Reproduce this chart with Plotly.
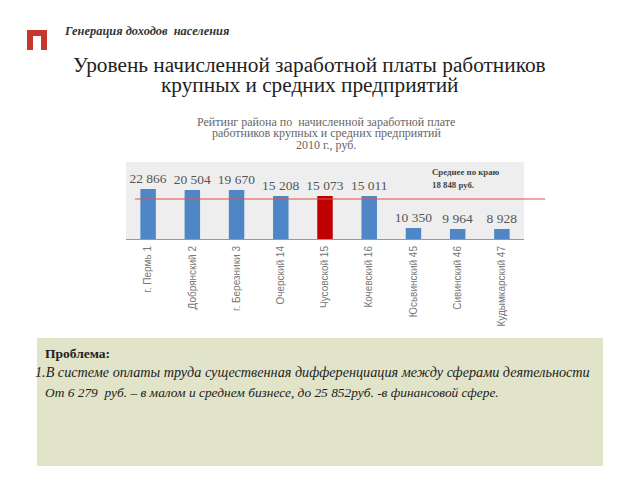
import plotly.graph_objects as go

W, H = 640, 480
districts = ["г. Пермь 1", "Добрянский 2", "г. Березники 3", "Очерский 14", "Чусовской 15",
             "Кочевский 16", "Юсьвинский 45", "Сивинский 46", "Кудымкарский 47"]
value_labels = ["22 866", "20 504", "19 670", "15 208", "15 073", "15 011", "10 350", "9 964", "8 928"]
# Bar heights as drawn in the picture: the source's axis is not proportional to the printed values
drawn_heights = [50, 49, 49, 43, 43, 43, 11, 10, 10]
drawn_average = 40
bar_colors = ["#4F86C6"] * 4 + ["#C00000"] + ["#4F86C6"] * 4

SERIF = "Liberation Serif"
def px(x): return x / W
def py(y): return 1 - y / H

fig = go.Figure(go.Bar(
    x=districts, y=drawn_heights, width=0.35,
    marker=dict(color=bar_colors, line=dict(width=0)),
    text=value_labels, textposition="outside", cliponaxis=False, constraintext="none",
    textfont=dict(family=SERIF, size=13.5, color="#555555"),
    hoverinfo="skip",
))

def note(x, y, text, size, color="#222222", anchor="left"):
    fig.add_annotation(xref="paper", yref="paper", x=px(x), y=py(y), text=text, showarrow=False,
                       xanchor=anchor, yanchor="middle", align="center" if anchor == "center" else "left",
                       font=dict(family=SERIF, size=size, color=color))

note(62, 31, "<b><i>Генерация доходов  населения</i></b>", 12.4, "#333333")
note(309, 65, "Уровень начисленной заработной платы работников", 21.3, "#222222", "center")
note(309, 85, "крупных и средних предприятий", 21.3, "#222222", "center")
note(326, 122, "Рейтинг района по  начисленной заработной плате", 12, "#666666", "center")
note(326, 133, "работников крупных и средних предприятий", 12, "#666666", "center")
note(326, 145, "2010 г., руб.", 12, "#666666", "center")
note(430, 172, "<b>Среднее по краю</b>", 8.8, "#444444")
note(430, 185, "<b>18 848 руб.</b>", 8.8, "#444444")
note(43, 353, "<b>Проблема:</b>", 13.5, "#222222")
note(33, 372, "<i>1.В системе оплаты труда существенная дифференциация между сферами деятельности</i>", 14.2, "#222222")
note(43, 392, "<i>От 6 279  руб. – в малом и среднем бизнесе, до 25 852руб. -в финансовой сфере.</i>", 13.4, "#222222")

shapes = [
    dict(type="rect", xref="paper", yref="paper", x0=px(126), x1=px(524), y0=py(239), y1=py(162),
         fillcolor="#EEEEEE", line_width=0, layer="below"),
    dict(type="rect", xref="paper", yref="paper", x0=px(37), x1=px(603), y0=py(466), y1=py(338),
         fillcolor="#E1E4C9", line_width=0, layer="below"),
    dict(type="rect", xref="paper", yref="paper", x0=px(27), x1=px(47), y0=py(36), y1=py(30),
         fillcolor="#C8372D", line_width=0),
    dict(type="rect", xref="paper", yref="paper", x0=px(27), x1=px(33), y0=py(50), y1=py(30),
         fillcolor="#C8372D", line_width=0),
    dict(type="rect", xref="paper", yref="paper", x0=px(41), x1=px(47), y0=py(50), y1=py(30),
         fillcolor="#C8372D", line_width=0),
    dict(type="line", xref="paper", yref="y", x0=px(135), x1=px(545), y0=drawn_average, y1=drawn_average,
         line=dict(color="#E0504C", width=1.2)),
]

fig.update_layout(
    width=W, height=H, margin=dict(l=0, r=0, t=0, b=0),
    paper_bgcolor="white", plot_bgcolor="rgba(0,0,0,0)", showlegend=False, shapes=shapes,
    xaxis=dict(domain=[px(126), px(524)], tickangle=-90, showgrid=False, showline=True, linecolor="#999999",
               linewidth=1, ticks="", automargin=False, ticklabelstandoff=2,
               tickfont=dict(family="Liberation Sans", size=10, color="#777777")),
    yaxis=dict(domain=[py(239), py(162)], range=[0, 77], visible=False, fixedrange=True),
)
fig.write_html("out.html", post_script="document.body.style.margin='0';",
               config={"displayModeBar": False})
